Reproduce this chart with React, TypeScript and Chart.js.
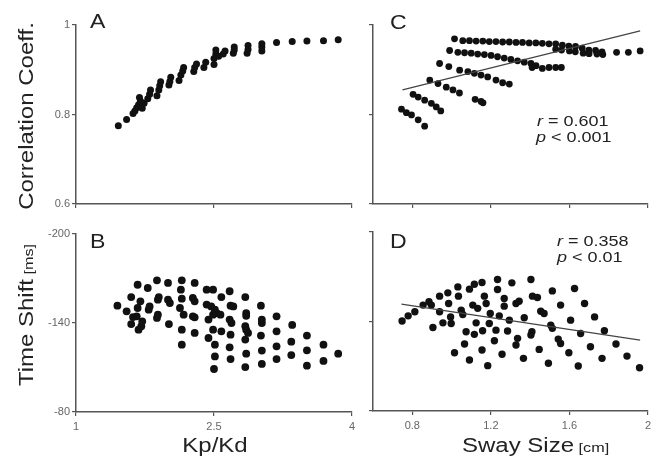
import React, { useEffect, useRef } from 'react';
import { Chart, registerables } from 'chart.js';

Chart.register(...registerables);

const W = 657;
const H = 459;
const FONT = '"Liberation Sans", Arial, Helvetica, sans-serif';

// ---------- Panel A: Correlation Coeff. vs Kp/Kd ----------
const aKpKd = [1.46, 1.55, 1.62, 1.64, 1.66, 1.68, 1.69, 1.70, 1.72, 1.74, 1.78, 1.80, 1.81, 1.88, 1.90, 1.91, 1.92, 2.01, 2.02, 2.03, 2.12, 2.14, 2.16, 2.17, 2.28, 2.29, 2.31, 2.39, 2.41, 2.50, 2.50, 2.52, 2.52, 2.55, 2.60, 2.62, 2.71, 2.72, 2.72, 2.86, 2.87, 2.87, 3.02, 3.02, 3.02, 3.18, 3.35, 3.51, 3.69, 3.85];
const aCorr = [0.775, 0.789, 0.802, 0.808, 0.815, 0.822, 0.838, 0.830, 0.814, 0.825, 0.835, 0.845, 0.855, 0.842, 0.855, 0.864, 0.873, 0.866, 0.874, 0.883, 0.876, 0.888, 0.897, 0.905, 0.896, 0.905, 0.913, 0.905, 0.917, 0.912, 0.925, 0.935, 0.944, 0.930, 0.935, 0.942, 0.937, 0.944, 0.951, 0.937, 0.945, 0.954, 0.942, 0.951, 0.958, 0.961, 0.963, 0.964, 0.965, 0.967];

// ---------- Panel B: Time Shift vs Kp/Kd ----------
const bKpKd = [1.45, 1.55, 1.60, 1.62, 1.60, 1.67, 1.70, 1.67, 1.66, 1.68, 1.71, 1.72, 1.78, 1.79, 1.80, 1.88, 1.90, 1.89, 1.88, 1.89, 2.00, 2.00, 2.02, 2.01, 2.15, 2.14, 2.15, 2.13, 2.17, 2.15, 2.15, 2.29, 2.27, 2.29, 2.27, 2.29, 2.29, 2.42, 2.42, 2.44, 2.44, 2.49, 2.47, 2.51, 2.49, 2.53, 2.49, 2.51, 2.51, 2.50, 2.58, 2.57, 2.58, 2.67, 2.68, 2.71, 2.67, 2.69, 2.68, 2.67, 2.68, 2.84, 2.85, 2.85, 2.84, 2.85, 2.87, 2.84, 2.85, 2.84, 3.01, 3.02, 3.02, 3.01, 3.02, 3.02, 3.18, 3.18, 3.18, 3.18, 3.35, 3.34, 3.34, 3.51, 3.51, 3.51, 3.69, 3.69, 3.85];
const bShift = [-151.7, -147.9, -157.5, -144.0, -139.3, -165.8, -154.6, -150.1, -144.5, -135.5, -137.8, -141.1, -163.6, -149.0, -151.2, -168.8, -157.5, -155.7, -143.4, -145.6, -167.0, -155.7, -153.5, -139.3, -168.8, -162.5, -156.4, -150.1, -145.6, -135.5, -125.4, -167.0, -156.9, -154.6, -144.5, -143.8, -133.3, -162.5, -152.4, -142.3, -129.9, -162.5, -151.2, -149.0, -145.6, -146.7, -135.5, -125.4, -117.5, -109.0, -157.5, -145.6, -134.4, -161.4, -151.7, -151.2, -142.3, -140.0, -132.1, -123.6, -115.7, -157.5, -146.7, -144.9, -137.8, -135.5, -133.3, -128.8, -119.3, -110.3, -151.7, -142.3, -140.0, -131.5, -121.4, -112.4, -144.5, -134.4, -124.3, -115.7, -138.7, -127.4, -118.4, -131.5, -121.6, -111.2, -125.4, -114.4, -119.3];

// ---------- Panel C: Correlation Coeff. vs Sway Size ----------
const cSway = [
  0.745, 0.770, 0.796, 0.830, 0.863,
  0.804, 0.830, 0.863, 0.897, 0.922, 0.945,
  0.889, 0.931, 0.973, 1.007, 1.040, 1.120, 1.150, 1.160,
  0.939, 0.986, 1.041, 1.083, 1.116, 1.150, 1.184, 1.226, 1.260, 1.294,
  0.990, 1.032, 1.066, 1.100, 1.133, 1.167, 1.201, 1.234, 1.268, 1.302, 1.336, 1.370, 1.404, 1.410, 1.430, 1.462, 1.496, 1.530, 1.559,
  1.015, 1.057, 1.091, 1.125, 1.159, 1.192, 1.226, 1.260, 1.294, 1.328, 1.361, 1.395, 1.429, 1.462, 1.496, 1.530, 1.564, 1.597, 1.631, 1.665, 1.699, 1.733, 1.766, 1.840, 1.900, 1.960,
  1.530, 1.560, 1.600, 1.630, 1.670, 1.700, 1.740, 1.770,
];
const cCorr = [
  0.812, 0.804, 0.799, 0.788, 0.774,
  0.845, 0.839, 0.832, 0.825, 0.817, 0.808,
  0.877, 0.869, 0.861, 0.855, 0.848, 0.834, 0.829, 0.826,
  0.914, 0.907, 0.899, 0.896, 0.892, 0.888, 0.884, 0.877, 0.871, 0.868,
  0.943, 0.939, 0.938, 0.937, 0.935, 0.934, 0.932, 0.929, 0.926, 0.923, 0.920, 0.917, 0.914, 0.905, 0.909, 0.903, 0.905, 0.905, 0.905,
  0.969, 0.965, 0.965, 0.964, 0.964, 0.963, 0.963, 0.962, 0.962, 0.961, 0.961, 0.960, 0.960, 0.959, 0.958, 0.958, 0.955, 0.953, 0.952, 0.948, 0.944, 0.943, 0.940, 0.939, 0.939, 0.942,
  0.946, 0.944, 0.942, 0.940, 0.937, 0.936, 0.935, 0.934,
];
const cFitSway = [0.75, 1.96];
const cFitCorr = [0.855, 0.987];

// ---------- Panel D: Time Shift vs Sway Size ----------
const dSway = [0.748, 0.779, 0.813, 0.855, 0.885, 0.897, 0.939, 0.981, 0.985, 1.032, 1.035, 0.939, 0.905, 0.956, 0.995, 0.998, 1.049, 1.057, 1.091, 1.116, 1.155, 1.108, 1.133, 1.167, 1.176, 1.074, 1.116, 1.125, 1.158, 1.192, 1.197, 1.226, 1.218, 1.234, 1.234, 1.307, 1.268, 1.268, 1.243, 1.294, 1.285, 1.328, 1.328, 1.066, 1.015, 1.155, 1.257, 1.091, 1.184, 1.404, 1.513, 1.626, 1.344, 1.412, 1.437, 1.555, 1.677, 1.370, 1.454, 1.471, 1.606, 1.728, 1.505, 1.513, 1.657, 1.778, 1.336, 1.409, 1.404, 1.543, 1.555, 1.707, 1.837, 1.446, 1.597, 1.893, 1.366, 1.493, 1.645, 1.766, 1.957];
const dShift = [-140.3, -143.8, -146.5, -151.0, -153.2, -151.0, -157.0, -159.2, -152.1, -163.2, -157.0, -146.5, -136.0, -139.1, -143.1, -138.7, -147.6, -144.7, -161.7, -165.0, -166.1, -151.0, -148.8, -157.0, -152.1, -133.1, -131.4, -139.1, -133.8, -138.7, -145.4, -134.2, -127.1, -168.2, -161.5, -165.9, -155.4, -150.3, -143.8, -140.9, -133.6, -152.1, -124.2, -124.9, -119.1, -120.9, -118.0, -114.2, -110.4, -168.2, -160.5, -162.1, -153.6, -157.0, -156.1, -151.0, -152.1, -142.5, -146.9, -145.4, -140.9, -143.1, -137.6, -135.4, -132.0, -133.8, -128.7, -133.1, -130.9, -128.2, -125.3, -123.1, -124.9, -121.3, -119.1, -116.8, -115.3, -112.0, -110.2, -115.3, -109.0];
const dFitSway = [0.745, 1.96];
const dFitShift = [-151.6, -127.5];

// ---------- Ticks ----------
const kpTicks = [1, 2.5, 4];
const kpTickLabels = ['1', '2.5', '4'];
const swayTicks = [0.8, 1.2, 1.6, 2];
const swayTickLabels = ['0.8', '1.2', '1.6', '2'];
const corrTicks = [0.6, 0.8, 1];
const corrTickLabels = ['0.6', '0.8', '1'];
const shiftTicks = [-200, -140, -80];
const shiftTickLabels = ['-200', '-140', '-80'];

type Run = { t: string; size: number; italic?: boolean };
type Txt = { runs: Run[]; x: number; y: number; align?: 'left' | 'center'; rot?: number; sx?: number };

const zip = (xs: number[], ys: number[]) => xs.map((x, i) => ({ x, y: ys[i] }));

function fontOf(r: Run) {
  return `${r.italic ? 'italic ' : ''}${r.size}px ${FONT}`;
}

function drawTxt(ctx: CanvasRenderingContext2D, it: Txt) {
  ctx.save();
  ctx.translate(it.x, it.y);
  if (it.rot) ctx.rotate(it.rot);
  ctx.scale(it.sx ?? 1, 1);
  ctx.fillStyle = '#222';
  ctx.textBaseline = 'alphabetic';
  ctx.textAlign = 'left';
  let total = 0;
  const ws = it.runs.map((r) => {
    ctx.font = fontOf(r);
    const w = ctx.measureText(r.t).width;
    total += w;
    return w;
  });
  let cx = it.align === 'center' ? -total / 2 : 0;
  it.runs.forEach((r, i) => {
    ctx.font = fontOf(r);
    ctx.fillText(r.t, cx, 0);
    cx += ws[i];
  });
  ctx.restore();
}

type PanelDef = {
  area: { l: number; r: number; t: number; b: number };
  points: { x: number; y: number }[];
  radius: number;
  fit?: { x: number; y: number }[];
  x: { min: number; max: number; ticks: number[]; labels: string[]; show: boolean };
  y: { min: number; max: number; ticks: number[]; labels: string[]; show: boolean; reverse?: boolean };
  texts: Txt[];
};

const axisColor = '#555';
const tickFont = { family: FONT, size: 11 };

function buildConfig(p: PanelDef): any {
  const YW = 40;
  const XH = 30;
  const datasets: any[] = [];
  if (p.fit) {
    datasets.push({
      data: p.fit,
      showLine: true,
      borderColor: '#444',
      borderWidth: 1.2,
      pointRadius: 0,
      clip: false,
    });
  }
  datasets.push({
    data: p.points,
    pointRadius: p.radius,
    pointBackgroundColor: '#111',
    pointBorderColor: '#111',
    pointBorderWidth: 0,
    clip: false,
  });
  const grid = {
    display: true,
    drawOnChartArea: false,
    drawTicks: true,
    tickLength: 4,
    color: axisColor,
    lineWidth: 1.2,
  };
  const border = { display: true, color: axisColor, width: 1.5 };
  return {
    type: 'scatter',
    data: { datasets },
    options: {
      responsive: false,
      maintainAspectRatio: false,
      animation: false,
      events: [],
      layout: {
        padding: {
          left: p.area.l - YW,
          right: W - p.area.r,
          top: p.area.t,
          bottom: H - p.area.b - XH,
        },
      },
      plugins: { legend: { display: false }, tooltip: { enabled: false } },
      scales: {
        x: {
          type: 'linear',
          min: p.x.min,
          max: p.x.max,
          afterFit: (s: any) => {
            s.height = XH;
          },
          afterBuildTicks: (s: any) => {
            s.ticks = p.x.ticks.map((v) => ({ value: v }));
          },
          ticks: {
            autoSkip: false,
            maxRotation: 0,
            padding: 4,
            color: '#666',
            font: tickFont,
            callback: (_v: any, i: number) => (p.x.show ? p.x.labels[i] : ''),
          },
          grid,
          border,
        },
        y: {
          type: 'linear',
          min: p.y.min,
          max: p.y.max,
          reverse: !!p.y.reverse,
          afterFit: (s: any) => {
            s.width = YW;
          },
          afterBuildTicks: (s: any) => {
            s.ticks = p.y.ticks.map((v) => ({ value: v }));
          },
          ticks: {
            autoSkip: false,
            padding: 2,
            color: '#666',
            font: tickFont,
            callback: (_v: any, i: number) => (p.y.show ? p.y.labels[i] : ''),
          },
          grid,
          border,
        },
      },
    },
    plugins: [
      {
        id: 'figText',
        afterDraw(chart: any) {
          p.texts.forEach((t) => drawTxt(chart.ctx, t));
        },
      },
    ],
  };
}

const SX = 1.2;
const ROT = -Math.PI / 2;

const panels: PanelDef[] = [
  {
    area: { l: 76, r: 352, t: 25, b: 204 },
    points: zip(aKpKd, aCorr),
    radius: 3.5,
    x: { min: 1, max: 4, ticks: kpTicks, labels: kpTickLabels, show: false },
    y: { min: 0.6, max: 1, ticks: corrTicks, labels: corrTickLabels, show: true },
    texts: [
      { runs: [{ t: 'A', size: 21 }], x: 90, y: 28, sx: 1.1 },
      { runs: [{ t: 'Correlation Coeff.', size: 20 }], x: 33, y: 116, rot: ROT, align: 'center', sx: SX },
    ],
  },
  {
    area: { l: 76, r: 352, t: 234, b: 412 },
    points: zip(bKpKd, bShift),
    radius: 3.9,
    x: { min: 1, max: 4, ticks: kpTicks, labels: kpTickLabels, show: true },
    y: { min: -200, max: -80, ticks: shiftTicks, labels: shiftTickLabels, show: true, reverse: true },
    texts: [
      { runs: [{ t: 'B', size: 21 }], x: 90, y: 248, sx: 1.1 },
      {
        runs: [
          { t: 'Time Shift', size: 20 },
          { t: ' [ms]', size: 13.5 },
        ],
        x: 33,
        y: 315,
        rot: ROT,
        align: 'center',
        sx: SX,
      },
      { runs: [{ t: 'Kp/Kd', size: 20 }], x: 215, y: 452, align: 'center', sx: SX },
    ],
  },
  {
    area: { l: 373, r: 648, t: 25, b: 204 },
    points: zip(cSway, cCorr),
    radius: 3.4,
    fit: zip(cFitSway, cFitCorr),
    x: { min: 0.6, max: 2, ticks: swayTicks, labels: swayTickLabels, show: false },
    y: { min: 0.6, max: 1, ticks: corrTicks, labels: corrTickLabels, show: false },
    texts: [
      { runs: [{ t: 'C', size: 21 }], x: 390, y: 29, sx: 1.1 },
      {
        runs: [
          { t: 'r', size: 15, italic: true },
          { t: ' = 0.601', size: 15 },
        ],
        x: 537,
        y: 126,
        sx: SX,
      },
      {
        runs: [
          { t: 'p', size: 15, italic: true },
          { t: ' < 0.001', size: 15 },
        ],
        x: 536,
        y: 142,
        sx: SX,
      },
    ],
  },
  {
    area: { l: 373, r: 648, t: 232, b: 411 },
    points: zip(dSway, dShift),
    radius: 3.7,
    fit: zip(dFitSway, dFitShift),
    x: { min: 0.6, max: 2, ticks: swayTicks, labels: swayTickLabels, show: true },
    y: { min: -200, max: -80, ticks: shiftTicks, labels: shiftTickLabels, show: false, reverse: true },
    texts: [
      { runs: [{ t: 'D', size: 21 }], x: 390, y: 248, sx: 1.1 },
      {
        runs: [
          { t: 'r', size: 15, italic: true },
          { t: ' = 0.358', size: 15 },
        ],
        x: 557,
        y: 246,
        sx: SX,
      },
      {
        runs: [
          { t: 'p', size: 15, italic: true },
          { t: ' < 0.01', size: 15 },
        ],
        x: 557,
        y: 262,
        sx: SX,
      },
      {
        runs: [
          { t: 'Sway Size', size: 20 },
          { t: ' [cm]', size: 13.5 },
        ],
        x: 462,
        y: 452,
        sx: SX,
      },
    ],
  },
];

function Panel({ def }: { def: PanelDef }) {
  const ref = useRef<HTMLCanvasElement | null>(null);
  useEffect(() => {
    if (!ref.current) return;
    const chart = new Chart(ref.current, buildConfig(def));
    return () => chart.destroy();
  }, [def]);
  return (
    <canvas
      ref={ref}
      width={W}
      height={H}
      style={{ position: 'absolute', left: 0, top: 0, width: W, height: H }}
    />
  );
}

export default function App() {
  return (
    <div
      style={{
        position: 'fixed',
        left: 0,
        top: 0,
        width: W,
        height: H,
        background: '#fff',
        overflow: 'hidden',
      }}
    >
      {panels.map((p, i) => (
        <Panel key={i} def={p} />
      ))}
    </div>
  );
}
